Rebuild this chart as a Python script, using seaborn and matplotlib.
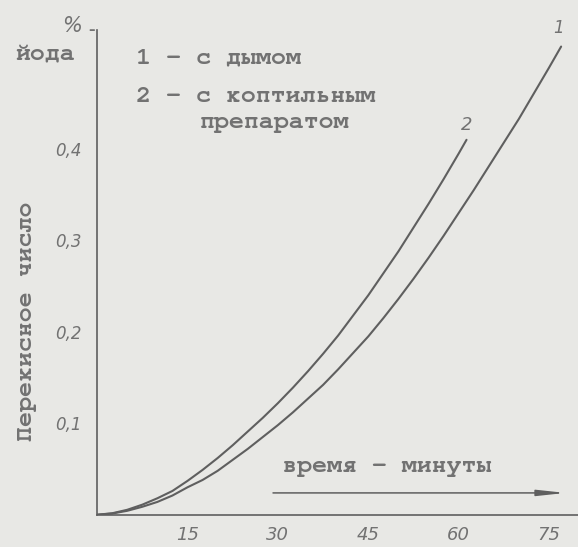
import matplotlib
matplotlib.use('Agg')
import matplotlib.pyplot as plt
import pandas as pd
import seaborn as sns

# Данные (время, мин -> перекисное число, % йода)
t_dym = [0, 2.5, 5, 7.5, 10, 12.5, 15, 17.5, 20, 22.5, 25, 27.5, 30, 32.5,
         35, 37.5, 40, 42.5, 45, 47.5, 50, 52.5, 55, 57.5, 60, 62.5, 65,
         67.5, 70, 72.5, 75, 77]
p_dym = [0, 0.0013, 0.0043, 0.0087, 0.014, 0.021, 0.030, 0.038, 0.048,
         0.060, 0.072, 0.085, 0.098, 0.112, 0.127, 0.142, 0.159, 0.177,
         0.195, 0.215, 0.236, 0.258, 0.281, 0.305, 0.330, 0.355, 0.381,
         0.407, 0.433, 0.461, 0.489, 0.512]
t_prep = [0, 2.5, 5, 7.5, 10, 12.5, 15, 17.5, 20, 22.5, 25, 27.5, 30, 32.5,
          35, 37.5, 40, 42.5, 45, 47.5, 50, 52.5, 55, 57.5, 60, 61.3]
p_prep = [0, 0.0016, 0.0054, 0.011, 0.018, 0.026, 0.037, 0.049, 0.062,
          0.076, 0.091, 0.106, 0.122, 0.139, 0.157, 0.176, 0.196, 0.218,
          0.240, 0.264, 0.288, 0.314, 0.340, 0.367, 0.395, 0.410]

x_ticks = [15, 30, 45, 60, 75]
x_labels = ['15', '30', '45', '60', '75']
y_ticks = [0.1, 0.2, 0.3, 0.4]
y_labels = ['0,1', '0,2', '0,3', '0,4']

FON = '#e8e8e5'
LINIYA = '#5f5f5f'
TEKST = '#727272'
MASHINKA = ['FreeMono', 'Liberation Mono', 'DejaVu Sans Mono']
RUKA = ['DejaVu Sans']

sns.set_theme(style='white')
plt.rcParams['font.family'] = MASHINKA
plt.rcParams['font.weight'] = 'bold'

df = pd.concat([
    pd.DataFrame({'t': t_dym, 'p': p_dym, 'серия': '1'}),
    pd.DataFrame({'t': t_prep, 'p': p_prep, 'серия': '2'}),
])

fig = plt.figure(figsize=(5.78, 5.47), dpi=100, facecolor=FON)
ax = fig.add_axes([0.168, 0.059, 0.832, 0.886], facecolor=FON)

sns.lineplot(data=df, x='t', y='p', hue='серия', palette=[LINIYA, LINIYA],
             linewidth=1.5, legend=False, ax=ax, sort=False, estimator=None)

ax.set_xlim(0, 79.8)
ax.set_ylim(0, 0.53)
for s in ['top', 'right']:
    ax.spines[s].set_visible(False)
for s in ['left', 'bottom']:
    ax.spines[s].set_color(LINIYA)
    ax.spines[s].set_linewidth(1.2)

ax.set_xticks(x_ticks)
ax.set_xticklabels(x_labels, style='italic', family=RUKA, weight='normal',
                   fontsize=13, color=TEKST)
ax.set_yticks(y_ticks)
ax.set_yticklabels(y_labels, style='italic', family=RUKA, weight='normal',
                   fontsize=12, color=TEKST)
ax.tick_params(axis='x', direction='in', length=5, width=1, color=LINIYA, pad=8)
ax.tick_params(axis='y', direction='out', length=10, width=1, color=LINIYA, pad=1)
ax.set_xlabel('')
ax.set_ylabel('Перекисное число', fontsize=18, color=TEKST, weight='bold',
              labelpad=12)
ax.yaxis.set_label_coords(-0.125, 0.4)

# крючок сверху оси Y и единицы
ax.annotate('', xy=(-0.02, 1.0), xytext=(0.0, 1.0), xycoords='axes fraction',
            arrowprops=dict(arrowstyle='-', color=LINIYA, lw=1.1))
fig.text(0.124, 0.952, '%', fontsize=15, color=TEKST, ha='center', va='center',
         style='italic', family=RUKA, weight='normal')
fig.text(0.026, 0.898, 'йода', fontsize=18, color=TEKST, ha='left', va='center')

# легенда
fig.text(0.236, 0.894, '1 - с дымом', fontsize=18, color=TEKST, va='center')
fig.text(0.236, 0.822, '2 - с коптильным', fontsize=18, color=TEKST, va='center')
fig.text(0.345, 0.776, 'препаратом', fontsize=18, color=TEKST, va='center')

# номера кривых
ax.text(t_dym[-1] - 0.4, p_dym[-1] + 0.01, '1', fontsize=12, color=TEKST,
        style='italic', family=RUKA, weight='normal', ha='center', va='bottom')
ax.text(t_prep[-1], p_prep[-1] + 0.006, '2', fontsize=13, color=TEKST,
        style='italic', family=RUKA, weight='normal', ha='center', va='bottom')

# подпись оси времени со стрелкой
ax.text(0.385, 0.099, 'время - минуты', transform=ax.transAxes, fontsize=18,
        color=TEKST, va='center')
ax.annotate('', xy=(0.98, 0.045), xytext=(0.36, 0.045), xycoords='axes fraction',
            arrowprops=dict(arrowstyle='-|>,head_length=1.4,head_width=0.15',
                            color=LINIYA, lw=1.1))

fig.savefig('out.png', dpi=100, facecolor=FON)
